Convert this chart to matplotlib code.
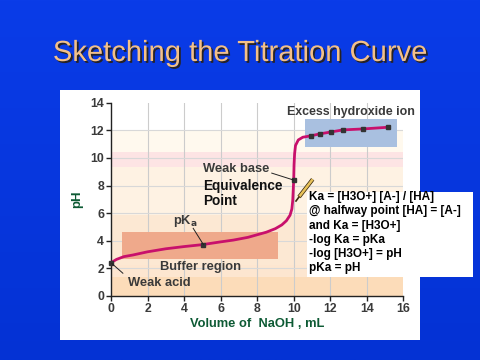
import numpy as np
import matplotlib
matplotlib.use("Agg")
import matplotlib.pyplot as plt
import matplotlib.patches as mpatches
import matplotlib.patheffects as pe

# ---------------- data ----------------
volume = [0, 0.3, 0.7, 1.2, 2, 3, 4, 5, 6, 6.7, 7.5, 8.5, 9.0, 9.35, 9.6, 9.8,
          9.9, 9.95, 10.0, 10.02, 10.05, 10.1, 10.25, 10.5, 10.94, 11.42,
          12.04, 12.7, 13.8, 15.14]
ph = [2.41, 2.65, 2.85, 2.97, 3.2, 3.42, 3.58, 3.72, 3.92, 4.05, 4.25, 4.62,
      4.88, 5.15, 5.45, 5.85, 6.3, 6.95, 8.4, 9.5, 10.3, 10.9, 11.3, 11.5,
      11.6, 11.74, 11.88, 12.03, 12.1, 12.22]
marked_volume = [0, 5.06, 9.99, 10.94, 11.42, 12.04, 12.7, 13.8, 15.14]
marked_ph = [2.41, 3.72, 8.4, 11.6, 11.74, 11.88, 12.03, 12.1, 12.22]
x_ticks = [0, 2, 4, 6, 8, 10, 12, 14, 16]
y_ticks = [0, 2, 4, 6, 8, 10, 12, 14]
title = "Sketching the Titration Curve"
x_label = "Volume of  NaOH , mL"
y_label = "pH"
note_lines = ["Ka = [H3O+] [A-] / [HA]",
              "@ halfway point [HA] = [A-]",
              "and Ka = [H3O+]",
              "-log Ka = pKa",
              "-log [H3O+] = pH",
              "pKa = pH"]

W, H = 480, 360
fig = plt.figure(figsize=(W / 100, H / 100), dpi=100)

# background gradient
bg = fig.add_axes([0, 0, 1, 1])
grad = np.linspace(0, 1, 256).reshape(-1, 1)
top = np.array([0x0a, 0x3c, 0xe8]) / 255
bot = np.array([0x04, 0x32, 0xd4]) / 255
img = top[None, None, :] * (1 - grad[:, :, None]) + bot[None, None, :] * grad[:, :, None]
bg.imshow(img, aspect="auto", extent=[0, 1, 0, 1])
bg.set_xlim(0, 1); bg.set_ylim(0, 1)
bg.axis("off")

def px(x, y):
    return x / W, 1 - y / H

# white panel
bg.add_patch(mpatches.Rectangle((60 / W, 1 - 340 / H), 360 / W, 250 / H,
                                facecolor="white", edgecolor="none", zorder=2))

# title
bg.text(240 / W, 1 - 53 / H, title, ha="center", va="center",
        fontsize=21, family="Liberation Sans", color="#f3c088", zorder=3,
        path_effects=[pe.withSimplePatchShadow(offset=(1.3, -1.3),
                                               shadow_rgbFace="#2a2010", alpha=0.9)])

cond = ["Liberation Sans", "DejaVu Sans"]
gray = "#3a3a3a"

# main axes
x0, x1 = 111 / W, 403.3 / W
y0, y1 = 1 - 296 / H, 1 - 102.7 / H
ax = fig.add_axes([x0, y0, x1 - x0, y1 - y0])
ax.set_facecolor("none")
ax.set_xlim(0, 16)
ax.set_ylim(0, 14)

# shading bands
bands = [(0, 1.4, "#fcdcb9"), (1.4, 2.25, "#fde6d0"), (2.25, 5.9, "#fce8d3"),
         (5.9, 9.33, "#fef2e3"), (9.33, 10.46, "#fde4e4"), (10.46, 12, "#fff9ee")]
for lo, hi, c in bands:
    ax.add_patch(mpatches.Rectangle((0, lo), 16, hi - lo, facecolor=c,
                                    edgecolor="none", zorder=0))

# grid
for xv in x_ticks[1:-1]:
    ax.plot([xv, xv], [0, 14], color="#cccccc", lw=0.8, zorder=1)
for yv in y_ticks[1:-1]:
    ax.plot([0, 16], [yv, yv], color="#d8d8d8", lw=0.8, zorder=1)

# region boxes
ax.add_patch(mpatches.Rectangle((0.59, 2.66), 9.13 - 0.59, 4.66 - 2.66,
                                facecolor="#efa98b", edgecolor="none", zorder=2))
ax.add_patch(mpatches.Rectangle((10.6, 10.8), 15.65 - 10.6, 12.8 - 10.8,
                                facecolor="#a9c0e0", edgecolor="none", zorder=2))

# curve
ax.plot(volume, ph, color="#c8106c", lw=2.0, zorder=4, solid_capstyle="round")
ax.plot(marked_volume, marked_ph, ls="none", marker="s", ms=2.8,
        color="#333333", zorder=5, clip_on=False)

# spines and ticks
for s in ["top", "right"]:
    ax.spines[s].set_visible(False)
for s in ["left", "bottom"]:
    ax.spines[s].set_color("#222222")
    ax.spines[s].set_linewidth(1.0)
ax.set_xticks(x_ticks)
ax.set_yticks(y_ticks)
ax.tick_params(length=3.5, width=1.0, color="#222222", pad=1.5)
for lab in ax.get_xticklabels() + ax.get_yticklabels():
    lab.set_family(cond)
    lab.set_fontweight("bold")
    lab.set_fontsize(8.8)
    lab.set_color(gray)

ax.set_xlabel(x_label, family=cond, fontweight="bold", fontsize=9.3,
              color="#0d5a34", labelpad=2)
ax.set_ylabel(y_label, family=cond, fontweight="bold", fontsize=9.5,
              color="#0d5a34", labelpad=5)

# annotations
kw = dict(family=cond, fontweight="bold", color=gray, zorder=6)
ax.text(9.63, 13.3, "Excess hydroxide ion", fontsize=8.9, va="center", ha="left", **kw)
ax.text(5.05, 9.2, "Weak base", fontsize=9.3, va="center", ha="left", **kw)
ax.text(5.05, 8.0, "Equivalence", fontsize=9.8, va="center", ha="left",
        family="Liberation Sans", fontweight="bold", color="#111111", zorder=6)
ax.text(5.05, 6.85, "Point", fontsize=9.8, va="center", ha="left",
        family="Liberation Sans", fontweight="bold", color="#111111", zorder=6)
ax.plot([8.8, 9.99], [8.9, 8.4], color="#222222", lw=0.7, zorder=5)
ax.text(3.4, 5.4, r"pK$_{\mathbf{a}}$", fontsize=9.3, va="center", ha="left", **kw)
ax.plot([4.5, 5.06], [4.9, 3.72], color="#222222", lw=0.7, zorder=5)
ax.text(2.7, 2.08, "Buffer region", fontsize=9.3, va="center", ha="left", **kw)
ax.text(0.95, 0.97, "Weak acid", fontsize=9.3, va="center", ha="left", **kw)
ax.plot([0.05, 0.65], [2.35, 1.65], color="#222222", lw=0.7, zorder=5)

# overlay axes for the pencil and note box
fg = fig.add_axes([0, 0, 1, 1])
fg.set_xlim(0, 1); fg.set_ylim(0, 1)
fg.axis("off")
fg.patch.set_alpha(0)

# pencil: body then dark tip
p_tip, p_mid, p_end = px(296, 201), px(299, 197), px(312.7, 179.3)
fg.plot([p_mid[0], p_end[0]], [p_mid[1], p_end[1]], color="#e8c25a", lw=1.8,
        zorder=7, solid_capstyle="butt",
        path_effects=[pe.Stroke(linewidth=2.9, foreground="#3a2a10"), pe.Normal()])
fg.plot([p_tip[0], p_mid[0]], [p_tip[1], p_mid[1]], color="#3a2a10", lw=1.2,
        zorder=7)

fg.add_patch(mpatches.Rectangle(px(307, 277), (473 - 307) / W, (277 - 192) / H,
                                facecolor="white", edgecolor="none", zorder=8))
line_y = [196.7, 211.3, 225.5, 239.8, 254, 268.3]
for t, yy in zip(note_lines, line_y):
    fg.text(309 / W, 1 - yy / H, t, fontsize=8.5, family="Liberation Sans",
            fontweight="bold", color="black", va="center", ha="left", zorder=9)

fig.savefig("out.png", dpi=100)
